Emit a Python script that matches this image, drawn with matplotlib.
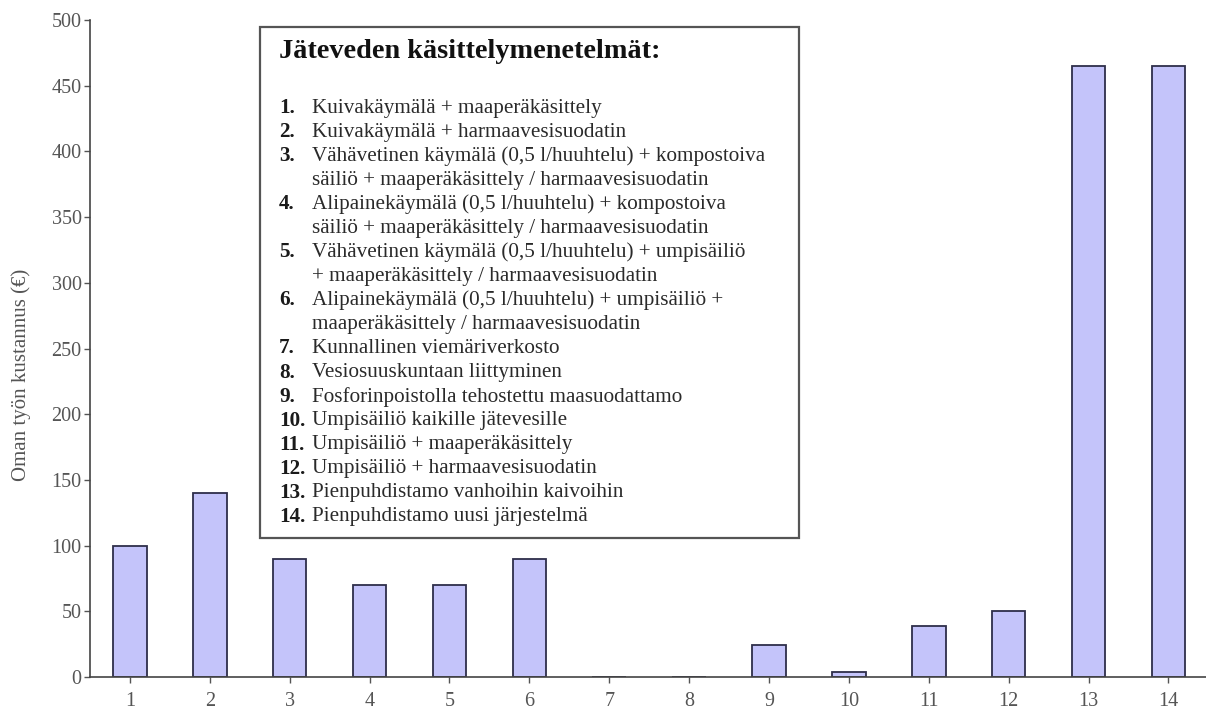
import matplotlib.pyplot as plt
from matplotlib.patches import Rectangle

# arvot luettu kuvasta
menetelmat = list(range(1, 15))
kustannus = [100, 140, 90, 70, 70, 90, 0, 0, 24, 4, 39, 50, 465, 465]

otsikko = 'Jäteveden käsittelymenetelmät:'
numerot = ['1.', '2.', '3.', '', '4.', '', '5.', '', '6.', '', '7.', '8.', '9.',
           '10.', '11.', '12.', '13.', '14.']
rivit = [
    'Kuivakäymälä + maaperäkäsittely',
    'Kuivakäymälä + harmaavesisuodatin',
    'Vähävetinen käymälä (0,5 l/huuhtelu) + kompostoiva',
    'säiliö + maaperäkäsittely / harmaavesisuodatin',
    'Alipainekäymälä (0,5 l/huuhtelu) + kompostoiva',
    'säiliö + maaperäkäsittely / harmaavesisuodatin',
    'Vähävetinen käymälä (0,5 l/huuhtelu) + umpisäiliö',
    '+ maaperäkäsittely / harmaavesisuodatin',
    'Alipainekäymälä (0,5 l/huuhtelu) + umpisäiliö +',
    'maaperäkäsittely / harmaavesisuodatin',
    'Kunnallinen viemäriverkosto',
    'Vesiosuuskuntaan liittyminen',
    'Fosforinpoistolla tehostettu maasuodattamo',
    'Umpisäiliö kaikille jätevesille',
    'Umpisäiliö + maaperäkäsittely',
    'Umpisäiliö + harmaavesisuodatin',
    'Pienpuhdistamo vanhoihin kaivoihin',
    'Pienpuhdistamo uusi järjestelmä',
]

plt.rcParams['font.family'] = 'Liberation Serif'

W, H = 1206, 712
fig = plt.figure(figsize=(W / 100, H / 100), dpi=100)
ax = fig.add_axes([90 / W, 1 - 677 / H, (W - 90) / W, (677 - 20) / H])

ax.bar(menetelmat, kustannus, width=0.42, color='#c4c4fa', edgecolor='#2e2e4a', linewidth=1.3)

ax.set_xlim(0.5, 14.47)
ax.set_ylim(0, 500)
ax.set_xticks(menetelmat)
ax.set_yticks(range(0, 501, 50))
ax.spines['top'].set_visible(False)
ax.spines['right'].set_visible(False)
for s in ['left', 'bottom']:
    ax.spines[s].set_color('#444444')
    ax.spines[s].set_linewidth(1.2)
ax.tick_params(axis='both', labelsize=14.5, colors='#555555', length=4, width=1)
ax.tick_params(axis='y', pad=2)
ax.tick_params(axis='x', pad=7)
ax.set_ylabel('Oman työn kustannus (€)', fontsize=15, color='#555555')
ax.yaxis.set_label_coords(-0.053, 0.46)

# selitelaatikko
def fx(px):
    return px / W

def fy(py):
    return 1 - py / H

fig.patches.append(Rectangle((fx(260), fy(538)), fx(799) - fx(260), fy(27) - fy(538),
                             transform=fig.transFigure, fill=True, facecolor='white',
                             edgecolor='#555555', linewidth=1.6, zorder=5))
fig.text(fx(279), fy(52), otsikko, fontsize=20.3, fontweight='bold', color='#111111',
         va='center', ha='left', zorder=6)
for i, (n, t) in enumerate(zip(numerot, rivit)):
    y = 108 + i * 24.05
    fig.text(fx(279), fy(y), n, fontsize=15.2, fontweight='bold', color='#1a1a1a',
             va='center', ha='left', zorder=6)
    fig.text(fx(312), fy(y), t, fontsize=15.2, color='#2a2a2a', va='center', ha='left', zorder=6)

fig.savefig('out.png', dpi=100)
